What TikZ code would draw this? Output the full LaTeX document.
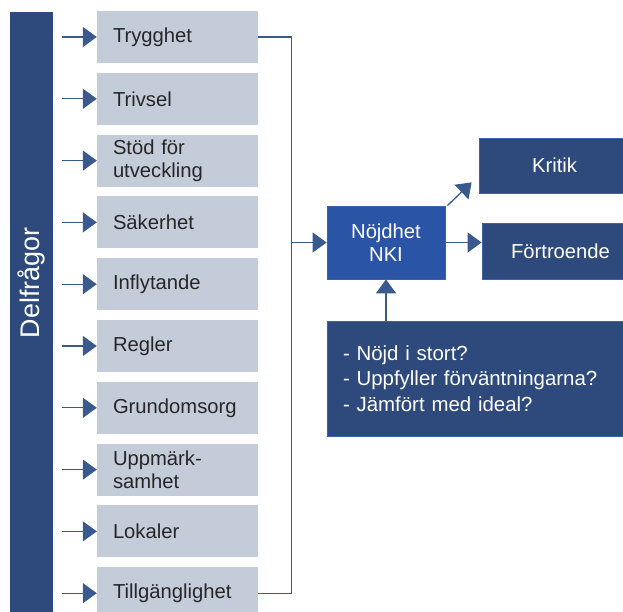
\documentclass[tikz,border=0pt]{standalone}
\usepackage{fontspec}
\setmainfont{Liberation Sans}
\usepackage{xcolor}
\usepackage{tikz}
\usetikzlibrary{arrows.meta, positioning}

\definecolor{barblue}{HTML}{2E4A7D}
\definecolor{nkiblue}{HTML}{2A55A6}
\definecolor{edgeblue}{HTML}{3C62AE}
\definecolor{lineblue}{HTML}{3A5A8F}
\definecolor{boxgray}{HTML}{C4CCDA}

\begin{document}
\begin{tikzpicture}[
      x=1bp, y=1bp,
      node distance=9.4bp,
      every node/.style={font=\fontsize{20.3}{23}\selectfont, inner sep=0pt},
      delbox/.style={rectangle, fill=boxgray, text=black!85, minimum width=161bp, minimum height=52bp, text width=129bp, align=left},
      darkbox/.style={rectangle, fill=barblue, draw=edgeblue, line width=0.8bp, text=white, align=center},
      fragbox/.style={darkbox, minimum width=310bp, minimum height=115bp, text width=278bp, align=left, font=\fontsize{20.5}{25.5}\selectfont},
      conn/.style={draw=lineblue, line width=1.3bp},
      arr/.style={conn, -{Triangle[length=14bp, width=20bp]}}
    ]
      \useasboundingbox (0,0) rectangle (623,612);
      \clip (0,0) rectangle (623,612);

      % left bar
      \node[rectangle, fill=barblue, minimum width=43bp, minimum height=610bp] (bar) at (31.5,295) {};
      \node[rotate=90, text=white, font=\fontsize{27}{30}\selectfont] (delf) at (31.5,329) {Delfrågor};

      % sub questions
      \node[delbox] (b1) at (177.5,575) {Trygghet};
      \node[delbox, below=of b1] (b2) {Trivsel};
      \node[delbox, below=of b2] (b3) {Stöd för\\utveckling};
      \node[delbox, below=of b3] (b4) {Säkerhet};
      \node[delbox, below=of b4] (b5) {Inflytande};
      \node[delbox, below=of b5] (b6) {Regler};
      \node[delbox, below=of b6] (b7) {Grundomsorg};
      \node[delbox, below=of b7] (b8) {Uppmärk-\\samhet};
      \node[delbox, below=of b8] (b9) {Lokaler};
      \node[delbox, below=of b9] (b10) {Tillgänglighet};

      \foreach \b in {b1,b2,b3,b4,b5,b6,b7,b8,b9,b10}
        \draw[arr] ([xshift=9bp]bar.east |- \b.west) -- (\b.west);

      % collecting line
      \draw[conn] (b1.east) -- ++(33bp,0) coordinate (bustop) |- (b10.east);

      % satisfaction index
      \node[darkbox, fill=nkiblue, minimum width=118bp, minimum height=73bp] (nki) at (386,369.5) {Nöjdhet\\NKI};
      \node[darkbox, minimum width=151bp, minimum height=55bp] (kritik) at (554.5,446.5) {Kritik};
      \node[darkbox, minimum width=157bp, minimum height=56bp] (fort) at (560.5,361) {Förtroende};
      \node[fragbox] (fragor) at (482,233.5) {- Nöjd i stort?\\- Uppfyller förväntningarna?\\- Jämfört med ideal?};

      \draw[arr] (bustop |- nki.west) -- (nki.west);
      \draw[arr] (nki.east) -- (nki.east -| fort.west);
      \draw[arr] ([xshift=2bp]nki.north east) -- ([xshift=-7bp, yshift=11bp]kritik.south west);
      \draw[arr] (fragor.north -| nki.south) -- (nki.south);
    \end{tikzpicture}
\end{document}
